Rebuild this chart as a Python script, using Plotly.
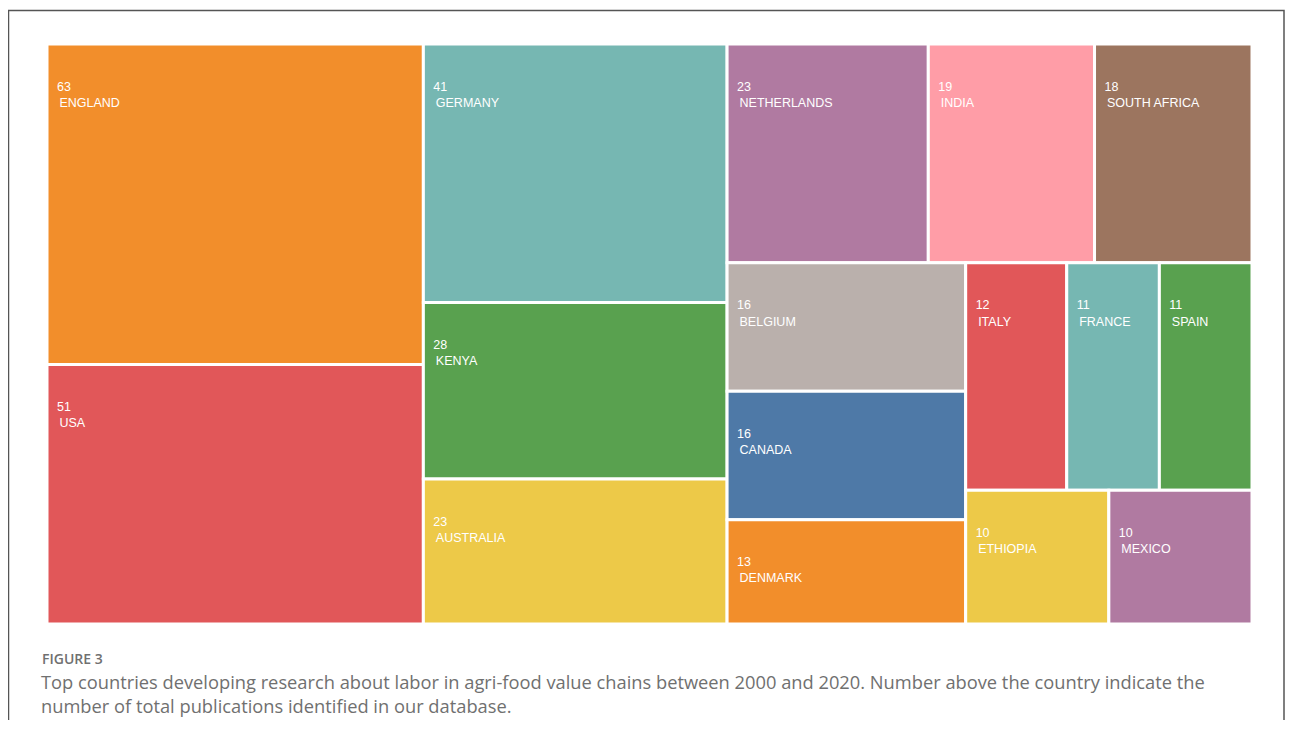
import plotly.graph_objects as go

countries = ["ENGLAND", "USA", "GERMANY", "KENYA", "AUSTRALIA", "NETHERLANDS", "INDIA",
             "SOUTH AFRICA", "BELGIUM", "CANADA", "DENMARK", "ITALY", "FRANCE", "SPAIN",
             "ETHIOPIA", "MEXICO"]
publications = [63, 51, 41, 28, 23, 23, 19, 18, 16, 16, 13, 12, 11, 11, 10, 10]
colors = ["#F28E2B", "#E15759", "#76B7B2", "#59A14F", "#EDC948", "#B07AA1", "#FF9DA7",
          "#9C755F", "#BAB0AC", "#4E79A7", "#F28E2B", "#E15759", "#76B7B2", "#59A14F",
          "#EDC948", "#B07AA1"]

# page body has an 8px margin; the figure is sized to fit inside the window
OFF = 8
W, H = 1293 - OFF, 712


def px(x):
    return (x - OFF) / W


def py(y):
    return 1 - (y - OFF) / H


fig = go.Figure(go.Treemap(
    labels=countries,
    parents=[""] * len(countries),
    values=publications,
    sort=True,
    marker=dict(colors=colors, line=dict(color="white", width=3), pad=dict(t=0, l=0, r=0, b=0)),
    texttemplate="&nbsp;<br>&nbsp;<br>&nbsp;&nbsp;%{value}<br>&nbsp;&nbsp;&#8201;%{label}",
    textposition="top left",
    textfont=dict(family="Liberation Sans, Arial, sans-serif", size=12.5, color="white"),
    tiling=dict(squarifyratio=1.618, pad=0),
    pathbar=dict(visible=False),
    domain=dict(x=[px(47), px(1252)], y=[py(624), py(44)]),
    hoverinfo="label+value",
))

fig.add_shape(type="path", xref="paper", yref="paper",
              path=f"M {px(8.5)} 0 L {px(8.5)} {py(10.5)} L {px(1284)} {py(10.5)} L {px(1284)} 0",
              line=dict(color="#555555", width=1.5))

fig.add_annotation(xref="paper", yref="paper", x=px(40), y=py(658), xanchor="left", yanchor="middle",
                   text="FIGURE 3", showarrow=False,
                   font=dict(family="Open Sans, sans-serif", size=14, color="#707070", weight=600))
fig.add_annotation(xref="paper", yref="paper", x=px(39), y=py(681), xanchor="left", yanchor="middle",
                   text="Top countries developing research about labor in agri-food value chains between 2000 and 2020. Number above the country indicate the",
                   showarrow=False, align="left",
                   font=dict(family="Open Sans, sans-serif", size=18.3, color="#707070"))
fig.add_annotation(xref="paper", yref="paper", x=px(39), y=py(705), xanchor="left", yanchor="middle",
                   text="number of total publications identified in our database.",
                   showarrow=False, align="left",
                   font=dict(family="Open Sans, sans-serif", size=18.3, color="#707070"))

fig.update_layout(width=W, height=H, margin=dict(l=0, r=0, t=0, b=0),
                  paper_bgcolor="white", plot_bgcolor="white")

fig.write_html("out.html")
